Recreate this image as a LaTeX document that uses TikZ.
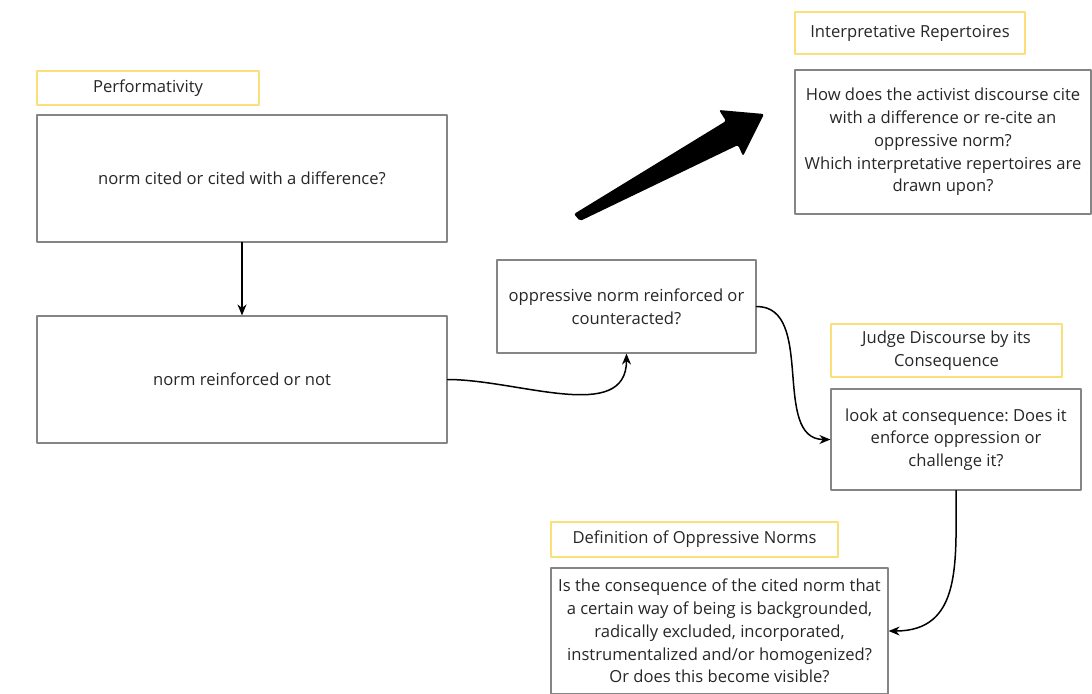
\documentclass[tikz,border=0pt]{standalone}
\usepackage{fontspec}
\setmainfont{Open Sans}
\usetikzlibrary{arrows.meta}
\definecolor{boxgray}{HTML}{858585}
\definecolor{tagyellow}{HTML}{FBDF78}
\definecolor{txt}{HTML}{262626}
\frenchspacing
\begin{document}
\begin{tikzpicture}[x=0.5pt,y=-0.5pt,line join=round,line cap=round,
	box/.style={draw=boxgray,line width=0.6pt,align=center,text=txt,inner sep=0pt,font=\fontsize{8.3pt}{11.4pt}\selectfont},
	tag/.style={box,draw=tagyellow},
	link/.style={-{Stealth[length=5.5pt,width=4.5pt]},line width=0.75pt}]
	\useasboundingbox (0,0) rectangle (1092,693);
	% labels
	\node[tag,minimum width=111pt,minimum height=17pt] (perf) at (148,88) {Performativity};
	\node[tag,minimum width=115pt,minimum height=21pt] (rep) at (910,33) {Interpretative Repertoires};
	\node[tag,minimum width=115.5pt,minimum height=26.5pt] (judge) at (946.5,350.5) {Judge Discourse by its\\Consequence};
	\node[tag,minimum width=143.5pt,minimum height=17.5pt] (defn) at (694.5,539.5) {Definition of Oppressive Norms};
	% boxes
	\node[box,minimum width=205pt,minimum height=63.5pt] (cite) at (242,178.5) {norm cited or cited with a difference?};
	\node[box,minimum width=205pt,minimum height=63.5pt] (reinf) at (242,379.5) {norm reinforced or not};
	\node[box,minimum width=129.5pt,minimum height=46.5pt] (oppr) at (626.5,306.5) {oppressive norm reinforced or\\counteracted?};
	\node[box,minimum width=148pt,minimum height=72pt] (how) at (943,142) {How does the activist discourse cite\\with a difference or re-cite an\\oppressive norm?\\Which interpretative repertoires are\\drawn upon?};
	\node[box,minimum width=125pt,minimum height=50.5pt] (look) at (956,439.5) {look at consequence: Does it\\enforce oppression or\\challenge it?};
	\node[box,minimum width=168.5pt,minimum height=63pt] (def) at (719.5,631) {Is the consequence of the cited norm that\\a certain way of being is backgrounded,\\radically excluded, incorporated,\\instrumentalized and/or homogenized?\\Or does this become visible?};
	% connectors
	\draw[link] (cite.south)--(reinf.north);
	\draw[link] (reinf.east) to[out=0,in=-90] (oppr.south);
	\draw[link] (oppr.east) to[out=0,in=180] (look.west);
	\draw[link] (look.south) to[out=-90,in=0,looseness=1.2] (def.east);
	% big arrow
	\fill[rounded corners=1pt] (574,214)--(726,121)--(719,110)--(764,114)--(743,156)--(738,145)--(580,221)--cycle;
\end{tikzpicture}
\end{document}
